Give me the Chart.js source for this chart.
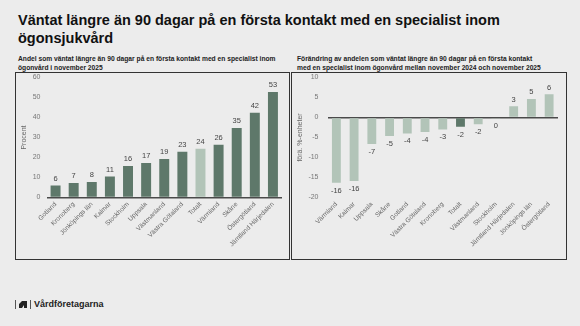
<!DOCTYPE html>
<html>
<head>
<meta charset="utf-8">
<script src="https://cdn.jsdelivr.net/npm/chart.js@4.4.1/dist/chart.umd.min.js"></script>
<style>
  html, body { margin:0; padding:0; }
  body { width:580px; height:326px; background:#ececec; position:relative; overflow:hidden;
         font-family:"Liberation Sans", Arial, Helvetica, sans-serif; color:#111; }
  #title { position:absolute; left:18px; top:12px; font-weight:bold; font-size:14.5px; line-height:17.5px; color:#111; }
  .sub { position:absolute; top:54px; font-weight:bold; font-size:6.7px; line-height:9px; color:#222; white-space:nowrap; }
  .box { position:absolute; top:72px; height:188px; border:1.5px solid #333; box-sizing:border-box; }
  .box canvas { position:absolute; left:0; top:0; }
  #footer { position:absolute; left:15px; top:299px; font-weight:bold; font-size:9px; color:#222; display:flex; align-items:center; }
  .vbar { display:inline-block; width:1px; height:9px; background:#555; margin:0 3px; }
</style>
</head>
<body>
<div id="title">Väntat längre än 90 dagar på en första kontakt med en specialist inom<br>ögonsjukvård</div>
<div class="sub" style="left:18px;">Andel som väntat längre än 90 dagar på en första kontakt med en specialist inom<br>ögonvård i november 2025</div>
<div class="sub" style="left:297px;">Förändring av andelen som väntat längre än 90 dagar på en första kontakt<br>med en specialist inom ögonvård mellan november 2024 och november 2025</div>
<div class="box" style="left:15px;width:275px;"><canvas id="c1" width="272" height="185"></canvas></div>
<div class="box" style="left:291px;width:276px;"><canvas id="c2" width="273" height="185"></canvas></div>
<div id="footer"><span class="vbar" style="margin-left:0"></span><svg width="8" height="7" viewBox="0 0 8 7"><path d="M0 3 L3 0 L8 0 L8 7 L5 7 L5 4 L3 7 L0 7 Z" fill="#222"/></svg><span class="vbar"></span><span>Vårdföretagarna</span></div>
<script>
// ---- Data ----
const leftCategories = ["Gotland","Kronoberg","Jönköpings län","Kalmar","Stockholm","Uppsala","Västmanland","Västra Götaland","Totalt","Värmland","Skåne","Östergötland","Jämtland Härjedalen"];
const leftValues = [6.0, 7.3, 7.7, 10.5, 15.8, 17.2, 19.2, 22.9, 24.4, 26.4, 34.7, 42.4, 52.7];
const leftTicks = [0, 10, 20, 30, 40, 50, 60];

const rightCategories = ["Värmland","Kalmar","Uppsala","Skåne","Gotland","Västra Götaland","Kronoberg","Totalt","Västmanland","Stockholm","Jämtland Härjedalen","Jönköpings län","Östergötland"];
const rightValues = [-16.3, -15.9, -6.6, -4.6, -4.0, -3.6, -3.0, -2.3, -1.7, -0.1, 2.8, 4.6, 5.8];
const rightTicks = [-20, -15, -10, -5, 0, 5, 10];

const DARK = "#5e786a";
const LIGHT = "#b2c4b8";

const labelPlugin = {
  id: "valueLabels",
  afterDatasetsDraw(chart) {
    const ctx = chart.ctx;
    const meta = chart.getDatasetMeta(0);
    const data = chart.data.datasets[0].data;
    ctx.save();
    ctx.font = "7.5px 'Liberation Sans', Arial, sans-serif";
    ctx.fillStyle = "#444";
    ctx.textAlign = "center";
    meta.data.forEach((bar, i) => {
      const v = data[i];
      const txt = String(Math.round(v) === 0 ? 0 : Math.round(v));
      if (v > 0) { ctx.textBaseline = "bottom"; ctx.fillText(txt, bar.x, bar.y - 3); }
      else { ctx.textBaseline = "top"; ctx.fillText(txt, bar.x, bar.y + 4); }
    });
    ctx.restore();
  }
};

function makeChart(id, cats, vals, colors, tickVals, title, opts) {
  return new Chart(document.getElementById(id), {
    type: "bar",
    data: { labels: cats, datasets: [{ data: vals, backgroundColor: colors, borderWidth: 0,
      barPercentage: opts.barPct, categoryPercentage: 1.0 }] },
    options: {
      responsive: false, animation: false,
      layout: { padding: { left: 0, right: opts.padRight, top: 0, bottom: 0 } },
      plugins: { legend: { display: false }, tooltip: { enabled: false } },
      scales: {
        x: {
          grid: { display: false, drawTicks: false },
          border: { display: false },
          ticks: { color: "#666", font: { size: 6.5, family: "'Liberation Sans', Arial, sans-serif" },
                   maxRotation: 45, minRotation: 45, autoSkip: false, padding: 3 },
          afterFit: s => { s.height = opts.xHeight; }
        },
        y: {
          min: tickVals[0], max: tickVals[tickVals.length - 1],
          afterBuildTicks: s => { s.ticks = tickVals.map(v => ({ value: v })); },
          grid: { drawTicks: false, lineWidth: c => (c.tick && c.tick.value === 0 ? 1.6 : 0),
                  color: c => (c.tick && c.tick.value === 0 ? "#4a4a4a" : "rgba(0,0,0,0)") },
          border: { display: false },
          ticks: { color: "#777", font: { size: 7, family: "'Liberation Sans', Arial, sans-serif" }, padding: opts.tickPad },
          title: { display: true, text: title, color: "#666", font: { size: 7, family: "'Liberation Sans', Arial, sans-serif" }, padding: { top: opts.titlePad, bottom: 0 } },
          afterFit: s => { s.width = opts.yWidth; s.paddingTop = opts.plotTop; s.paddingBottom = 0; }
        }
      }
    },
    plugins: [labelPlugin]
  });
}

makeChart("c1", leftCategories, leftValues,
  leftCategories.map(c => c === "Totalt" ? LIGHT : DARK), leftTicks, "Procent",
  { barPct: 0.55, padRight: 6, plotTop: 4.5, xHeight: 60.5, yWidth: 30.5, tickPad: 6, titlePad: 4 });

makeChart("c2", rightCategories, rightValues,
  rightCategories.map(c => c === "Totalt" ? DARK : LIGHT), rightTicks, "förä. %-enheter",
  { barPct: 0.5, padRight: 7, plotTop: 4.5, xHeight: 60.5, yWidth: 35.5, tickPad: 9, titlePad: 4 });
</script>
</body>
</html>
